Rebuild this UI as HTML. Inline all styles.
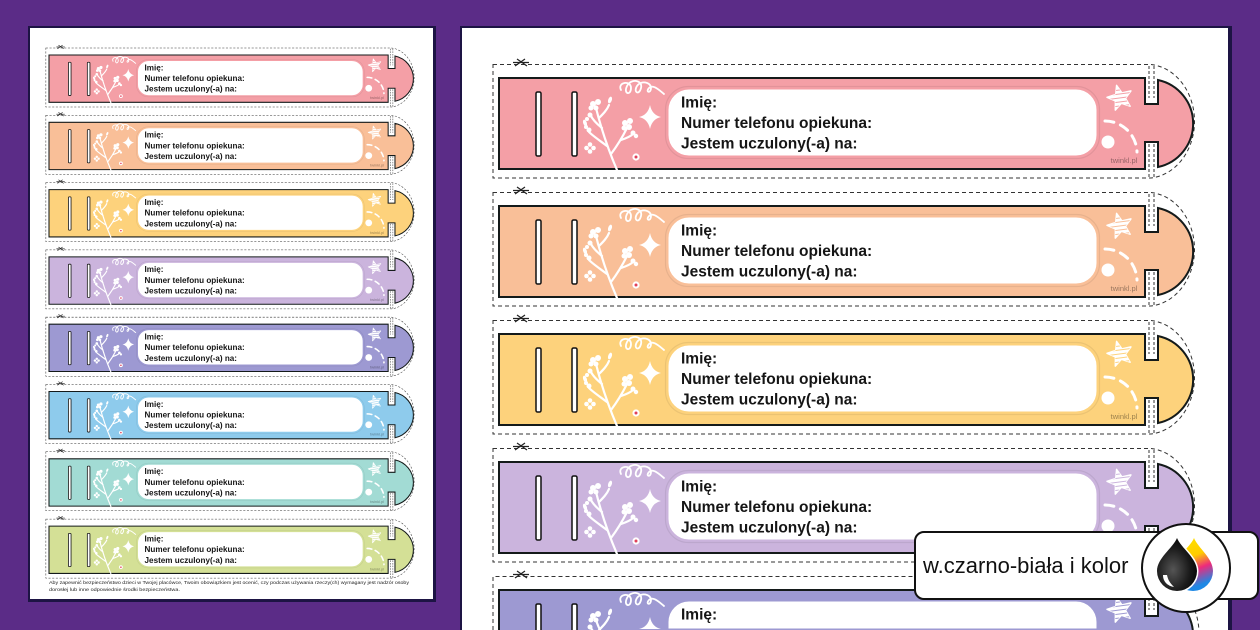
<!DOCTYPE html>
<html><head><meta charset="utf-8">
<style>
html,body{margin:0;padding:0;background:#5b2c87;width:1260px;height:630px;overflow:hidden;}
svg{display:block;overflow:hidden;}
text{font-family:"Liberation Sans","DejaVu Sans",sans-serif;}
.t{font-weight:bold;font-size:15.5px;fill:#151515;}
</style></head>
<body>
<svg width="1260" height="630" viewBox="0 0 1260 630" xmlns="http://www.w3.org/2000/svg" xmlns:xlink="http://www.w3.org/1999/xlink">
<defs>
  <clipPath id="starclip"><path d="M617.6,7.4 L623.0,14.9 L631.9,12.9 L626.5,20.3 L631.1,28.2 L622.4,25.3 L616.3,32.1 L616.4,23.0 L608.0,19.3 L616.7,16.5 Z"/></clipPath>
  <linearGradient id="cmy" x1="0" y1="0" x2="0.3" y2="1">
    <stop offset="0" stop-color="#ffe600"/>
    <stop offset="0.45" stop-color="#ffcc00"/>
    <stop offset="0.7" stop-color="#ee2a7b"/>
    <stop offset="1" stop-color="#1e88e5"/>
  </linearGradient>
  <radialGradient id="blk" cx="0.4" cy="0.6" r="0.7">
    <stop offset="0" stop-color="#555"/>
    <stop offset="0.6" stop-color="#1a1a1a"/>
    <stop offset="1" stop-color="#000"/>
  </radialGradient>
  <g id="topdeco">
    <g fill="none" stroke="#fff" stroke-width="2.2" stroke-linecap="round">
      <path d="M103,50 C98,46 94,42 92,38"/>
      <path d="M100,40 C104,36 108,32 110,27"/>
      <path d="M122,12 C118,4 132,2 132,10 C132,18 124,16 128,8 C132,0 144,2 142,10 C140,18 134,14 138,8 C142,2 152,4 152,10 C152,16 146,14 150,10 C154,6 160,12 165,16" stroke-width="1.8"/>
    </g>
    <g fill="#fff">
      <circle cx="94" cy="26" r="3"/><circle cx="99" cy="24" r="3"/><circle cx="97" cy="30" r="2.5"/><circle cx="92" cy="30" r="2.5"/>
      <circle cx="91" cy="37" r="2.5"/>
      <ellipse cx="86" cy="45" rx="1.8" ry="3.5" transform="rotate(-20 86 45)"/>
      <ellipse cx="111" cy="22" rx="1.8" ry="3.5" transform="rotate(20 111 22)"/>
      <path d="M617.6,7.4 L623.0,14.9 L631.9,12.9 L626.5,20.3 L631.1,28.2 L622.4,25.3 L616.3,32.1 L616.4,23.0 L608.0,19.3 L616.7,16.5 Z" stroke="#fff" stroke-width="1.5" stroke-linejoin="round"/>
    </g>
    <g clip-path="url(#starclip)" stroke="currentColor" stroke-width="1">
      <path d="M605,14 L636,10 M605,18 L636,14 M605,22 L636,18 M605,26 L636,22 M605,30 L636,26"/>
    </g>
  </g>
  <g id="band">
    <path d="M-6,-13.5 H652 A48,57 0 0 1 652,100 H-6 Z" fill="none" stroke="#333" stroke-width="1" stroke-dasharray="4 3"/>
    <path d="M650,-12 V20 M655,-12 V20 M650,66 V99 M655,66 V99" fill="none" stroke="#333" stroke-width="1" stroke-dasharray="3 2"/>
    <path d="M16,-12 L26,-19 M18,-19 L28,-12 M14,-15.5 H30" fill="none" stroke="#222" stroke-width="1.2"/>
    <path d="M0,0 H646 V26 H659 V2 A44.5,44.5 0 0 1 659,89 V64 H646 V91 H0 Z" fill="currentColor" stroke="#141a1a" stroke-width="2"/>
    <rect x="37" y="14" width="5" height="64" rx="1.5" fill="#fff" stroke="#111" stroke-width="1.5"/>
    <rect x="73" y="14" width="5" height="64" rx="1.5" fill="#fff" stroke="#111" stroke-width="1.5"/>
    <rect x="168" y="10" width="431" height="69" rx="22" fill="#fff" stroke="currentColor" stroke-width="3"/>
    <rect x="166.5" y="8.5" width="434" height="72" rx="23" fill="none" stroke="rgba(0,0,0,0.07)" stroke-width="1.2"/>
    <g fill="none" stroke="#fff" stroke-width="2.2" stroke-linecap="round">
      <path d="M118,92 C112,78 104,58 97,30"/>
      <path d="M112,76 C118,68 124,58 128,50"/>
      <path d="M108,68 C100,62 94,58 90,54"/>
      <path d="M122,62 C128,60 132,58 134,56"/>
    </g>
    <g fill="#fff">
      <circle cx="126" cy="45" r="3"/><circle cx="131" cy="43" r="3"/><circle cx="130" cy="49" r="3"/><circle cx="125" cy="50" r="2.5"/>
      <circle cx="134" cy="55" r="2.5"/><circle cx="137" cy="58" r="2.2"/>
      <circle cx="90" cy="52" r="2.5"/><circle cx="87" cy="49" r="2"/>
      <circle cx="88" cy="41" r="2"/>
      <circle cx="91" cy="66.5" r="2.3"/><circle cx="94.5" cy="70" r="2.3"/><circle cx="91" cy="73.5" r="2.3"/><circle cx="87.5" cy="70" r="2.3"/>
      <path d="M151,27 Q153,37 162,39 Q153,41 151,51 Q149,41 140,39 Q149,37 151,27Z"/>
      <circle cx="137" cy="79" r="3.6"/>
    </g>
    <circle cx="137" cy="79" r="1.5" fill="#e0405a"/>
    <use xlink:href="#topdeco"/>
    <path d="M606,43 A32,32 0 0 1 638,74" fill="none" stroke="#fff" stroke-width="3" stroke-linecap="round" stroke-dasharray="9 7"/>
    <circle cx="609" cy="64" r="6.5" fill="#fff"/>
    <text x="625" y="85" font-size="7.5" text-anchor="middle" fill="#000" fill-opacity="0.4">twinkl.pl</text>
  </g>
</defs>

<!-- LEFT PAGE -->
<rect x="28" y="26" width="408" height="576" fill="#1d1444"/>
<rect x="30" y="28" width="403" height="571" fill="#fff"/>

<g transform="translate(49,55) scale(0.525,0.52)"><use xlink:href="#band" color="#f49fa6"/>
<text class="t" x="182" y="29.5">Imię:</text><text class="t" x="182" y="50">Numer telefonu opiekuna:</text><text class="t" x="182" y="70.5">Jestem uczulony(-a) na:</text></g>
<g transform="translate(49,122.3) scale(0.525,0.52)"><use xlink:href="#band" color="#f9bf98"/>
<text class="t" x="182" y="29.5">Imię:</text><text class="t" x="182" y="50">Numer telefonu opiekuna:</text><text class="t" x="182" y="70.5">Jestem uczulony(-a) na:</text></g>
<g transform="translate(49,189.6) scale(0.525,0.52)"><use xlink:href="#band" color="#fdd27c"/>
<text class="t" x="182" y="29.5">Imię:</text><text class="t" x="182" y="50">Numer telefonu opiekuna:</text><text class="t" x="182" y="70.5">Jestem uczulony(-a) na:</text></g>
<g transform="translate(49,256.9) scale(0.525,0.52)"><use xlink:href="#band" color="#cbb4dd"/>
<text class="t" x="182" y="29.5">Imię:</text><text class="t" x="182" y="50">Numer telefonu opiekuna:</text><text class="t" x="182" y="70.5">Jestem uczulony(-a) na:</text></g>
<g transform="translate(49,324.2) scale(0.525,0.52)"><use xlink:href="#band" color="#9d99d2"/>
<text class="t" x="182" y="29.5">Imię:</text><text class="t" x="182" y="50">Numer telefonu opiekuna:</text><text class="t" x="182" y="70.5">Jestem uczulony(-a) na:</text></g>
<g transform="translate(49,391.5) scale(0.525,0.52)"><use xlink:href="#band" color="#8ecbec"/>
<text class="t" x="182" y="29.5">Imię:</text><text class="t" x="182" y="50">Numer telefonu opiekuna:</text><text class="t" x="182" y="70.5">Jestem uczulony(-a) na:</text></g>
<g transform="translate(49,458.8) scale(0.525,0.52)"><use xlink:href="#band" color="#a2dbd4"/>
<text class="t" x="182" y="29.5">Imię:</text><text class="t" x="182" y="50">Numer telefonu opiekuna:</text><text class="t" x="182" y="70.5">Jestem uczulony(-a) na:</text></g>
<g transform="translate(49,526.1) scale(0.525,0.52)"><use xlink:href="#band" color="#d4e096"/>
<text class="t" x="182" y="29.5">Imię:</text><text class="t" x="182" y="50">Numer telefonu opiekuna:</text><text class="t" x="182" y="70.5">Jestem uczulony(-a) na:</text></g>

<text x="49" y="584" font-size="4.8" fill="#222" textLength="360" lengthAdjust="spacingAndGlyphs">Aby zapewnić bezpieczeństwo dzieci w Twojej placówce, Twoim obowiązkiem jest ocenić, czy podczas używania rzeczy(ch) wymagany jest nadzór osoby</text>
<text x="49" y="591" font-size="4.8" fill="#222" textLength="131" lengthAdjust="spacingAndGlyphs">dorosłej lub inne odpowiednie środki bezpieczeństwa.</text>

<!-- RIGHT PAGE -->
<rect x="460" y="26" width="772" height="604" fill="#1d1444"/>
<rect x="462" y="28" width="766" height="602" fill="#fff"/>

<g transform="translate(499,78)"><use xlink:href="#band" color="#f49fa6"/>
<text class="t" x="182" y="29.5">Imię:</text><text class="t" x="182" y="50">Numer telefonu opiekuna:</text><text class="t" x="182" y="70.5">Jestem uczulony(-a) na:</text></g>
<g transform="translate(499,206)"><use xlink:href="#band" color="#f9bf98"/>
<text class="t" x="182" y="29.5">Imię:</text><text class="t" x="182" y="50">Numer telefonu opiekuna:</text><text class="t" x="182" y="70.5">Jestem uczulony(-a) na:</text></g>
<g transform="translate(499,334)"><use xlink:href="#band" color="#fdd27c"/>
<text class="t" x="182" y="29.5">Imię:</text><text class="t" x="182" y="50">Numer telefonu opiekuna:</text><text class="t" x="182" y="70.5">Jestem uczulony(-a) na:</text></g>
<g transform="translate(499,462)"><use xlink:href="#band" color="#cbb4dd"/>
<text class="t" x="182" y="29.5">Imię:</text><text class="t" x="182" y="50">Numer telefonu opiekuna:</text><text class="t" x="182" y="70.5">Jestem uczulony(-a) na:</text></g>

<!-- truncated 5th band (cut at page bottom) -->
<g transform="translate(499,590)" color="#9d99d2">
  <path d="M-6,40 V-13.5 H652 A48,57 0 0 1 699.9,40" fill="none" stroke="#333" stroke-width="1" stroke-dasharray="4 3"/>
  <path d="M650,-12 V20 M655,-12 V20" fill="none" stroke="#333" stroke-width="1" stroke-dasharray="3 2"/>
  <path d="M16,-12 L26,-19 M18,-19 L28,-12 M14,-15.5 H30" fill="none" stroke="#222" stroke-width="1.2"/>
  <path d="M0,40 V0 H646 V26 H659 V2 A44.5,44.5 0 0 1 693.8,40 Z" fill="#9d99d2"/>
  <path d="M0,40 V0 H646 V26 H659 V2 A44.5,44.5 0 0 1 693.8,40" fill="none" stroke="#141a1a" stroke-width="2"/>
  <path d="M37,40 V15.5 Q37,14 38.5,14 H40.5 Q42,14 42,15.5 V40 M73,40 V15.5 Q73,14 74.5,14 H76.5 Q78,14 78,15.5 V40" fill="#fff" stroke="#111" stroke-width="1.5"/>
  <path d="M168,40 V32 A22,22 0 0 1 190,10 H577 A22,22 0 0 1 599,32 V40 Z" fill="#fff" stroke="#9d99d2" stroke-width="3"/>
  <path d="M97,30 C99,36 100,38 101,40" fill="none" stroke="#fff" stroke-width="2.2" stroke-linecap="round"/>
  <use xlink:href="#topdeco"/>
  <path d="M151,27 Q153,37 162,39 L151,39 L140,39 Q149,37 151,27Z" fill="#fff"/>
  <text class="t" x="182" y="29.5">Imię:</text>
</g>

<!-- BADGE -->
<rect x="915" y="532" width="343" height="67" rx="9" fill="#fff" stroke="#111" stroke-width="2"/>
<text x="923" y="573" font-size="22" fill="#111">w.czarno-biała i kolor</text>
<circle cx="1186" cy="568" r="44" fill="#fff" stroke="#111" stroke-width="2"/>
<path d="M1194,538 C1198,548 1213,558 1213,571 A20,20 0 0 1 1173,571 C1173,558 1190,548 1194,538 Z" fill="url(#cmy)"/>
<path d="M1177,538 C1181,548 1197,558 1197,571 A20,20 0 0 1 1157,571 C1157,558 1173,548 1177,538 Z" fill="url(#blk)" stroke="#fff" stroke-width="3"/>
<path d="M1177,538 C1181,548 1197,558 1197,571 A20,20 0 0 1 1157,571 C1157,558 1173,548 1177,538 Z" fill="url(#blk)"/>
<path d="M1163,575 C1163,582 1168,586 1174,587 C1170,583 1168,580 1167,575 Z" fill="#fff"/>
</svg>
</body></html>
